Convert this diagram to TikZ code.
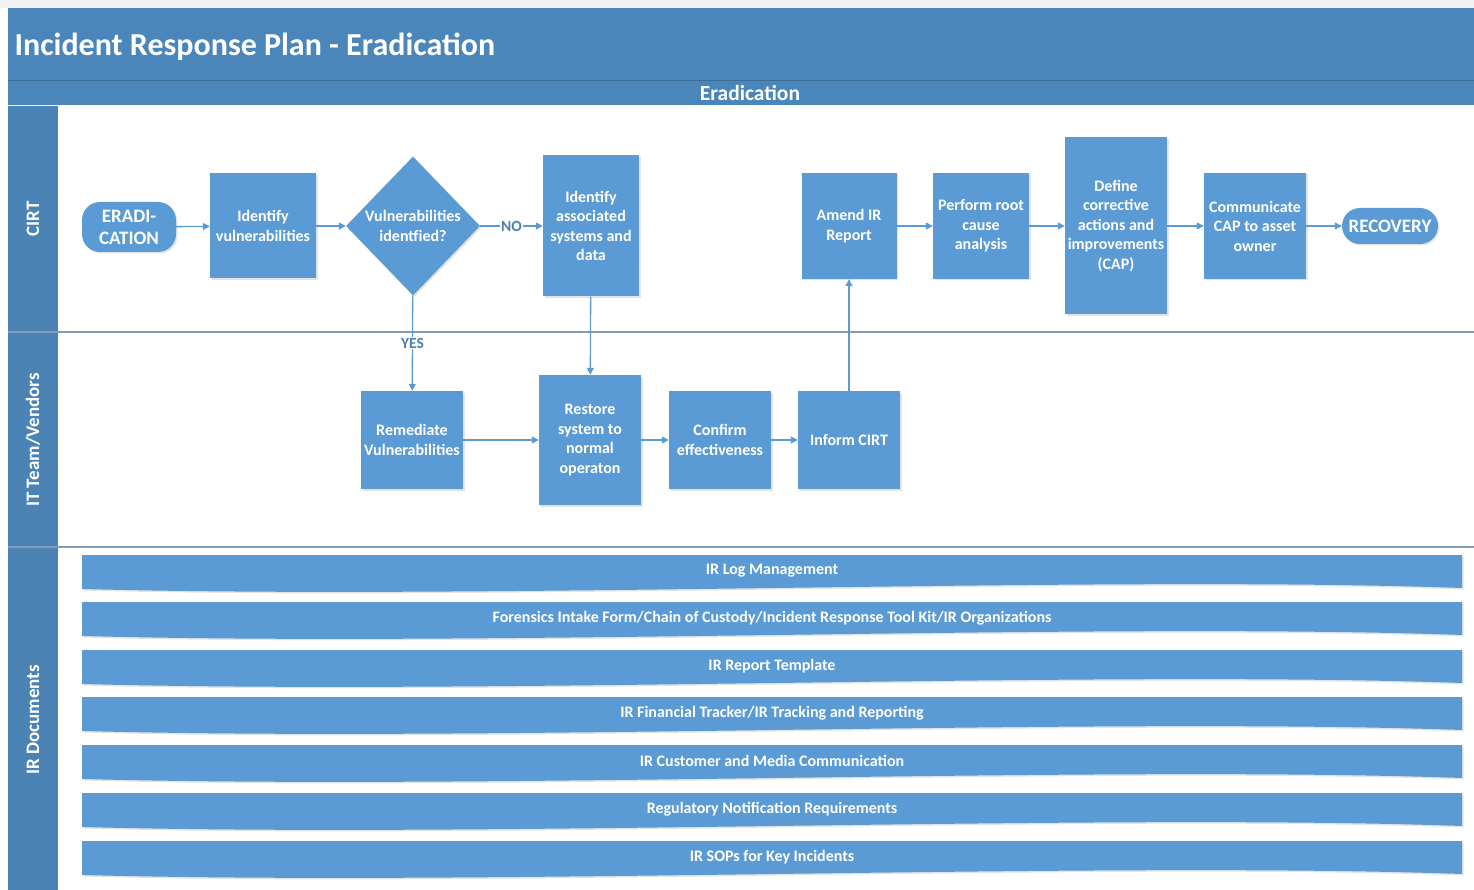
\documentclass[tikz,border=0pt]{standalone}
\usepackage{fontspec}
\setmainfont{Carlito}
\usetikzlibrary{positioning,arrows.meta,shapes.geometric,shadows}

\definecolor{hdrblue}{HTML}{4A86BA}
\definecolor{laneblue}{HTML}{4B83B5}
\definecolor{boxblue}{HTML}{5B9BD5}
\definecolor{rulegray}{HTML}{7F9DBA}
\definecolor{lblblue}{HTML}{4F7FAF}

\newcommand{\taskfont}{\bfseries\fontsize{16}{19.5}\selectfont}
\newcommand{\termfont}{\bfseries\fontsize{19}{22}\selectfont}

\tikzset{
  shd/.style    ={drop shadow={shadow xshift=1.5pt, shadow yshift=-1.5pt,
                  opacity=.22, fill=black!50}},
  task/.style   ={fill=boxblue, text=white, align=center, font=\taskfont,
                  inner sep=1pt, shd},
  term/.style   ={task, rounded corners=18pt, font=\termfont},
  decide/.style ={task, diamond, minimum width=134pt, minimum height=139pt,
                  inner sep=0pt},
  fl/.style     ={-{Triangle[length=7pt,width=7pt]}, draw=boxblue, line width=1.3pt},
  lbl/.style    ={midway, fill=white, inner sep=1pt, text=lblblue,
                  font=\bfseries\fontsize{15.5}{17}\selectfont},
  lane/.style   ={rotate=90, text=white, font=\bfseries\fontsize{19}{22}\selectfont},
  doctext/.style={text=white, font=\bfseries\fontsize{16}{18}\selectfont},
}

% one document band of the IR Documents lane: #1 name, #2 top edge, #3 text
\newcommand{\irdoc}[3]{%
  \fill[boxblue, shd] (82,#2) -- (1462,#2) -- (1462,#2+33)
        .. controls (1100,#2+20) and (500,#2+45) .. (82,#2+34) -- cycle;
  \node[doctext] (#1) at (772,#2+16) {#3};}

\begin{document}
\begin{tikzpicture}[x=1pt, y=-1pt]
  \useasboundingbox (0,0) rectangle (1474,890);
  \fill[black!5] (0,0) rectangle (1474,8);

  % header and swim lanes
  \fill[hdrblue] (8,8) rectangle (1474,105);
  \draw[hdrblue!80!black, line width=1pt] (8,81) -- (1474,81);
  \node[text=white, font=\bfseries\fontsize{32}{36}\selectfont, anchor=west]
        (title) at (11,47) {Incident Response Plan - Eradication};
  \node[text=white, font=\bfseries\fontsize{21.5}{26}\selectfont]
        (phase) at (750,93) {Eradication};
  \fill[laneblue] (8,106) rectangle (58,890);
  \draw[rulegray, line width=2pt] (8,332) -- (1474,332);
  \draw[rulegray, line width=2pt] (8,547) -- (1474,547);
  \node[lane] (cirtlane) at (33,219) {CIRT};
  \node[lane] (itlane)   at (33,440) {IT Team/Vendors};
  \node[lane] (doclane)  at (33,720) {IR Documents};

  % CIRT lane
  \node[term, minimum width=94pt, minimum height=50pt] (erad) at (129,227) {ERADI-\\CATION};
  \node[task, minimum width=106pt, minimum height=105pt] (idvuln) at (263,226)
        {Identify\\vulnerabilities};
  \node[decide] (vfound) at (413,226) {Vulnerabilities\\identfied?};
  \node[task, minimum width=96pt, minimum height=141pt] (idsys) at (591,226)
        {Identify\\associated\\systems and\\data};
  \node[task, minimum width=95pt, minimum height=106pt] (amend) at (849,226)
        {Amend IR\\Report};
  \node[task, minimum width=96pt, minimum height=106pt] (rootcause) at (981,226)
        {Perform root\\cause\\analysis};
  \node[task, minimum width=102pt, minimum height=177pt] (defcap) at (1116,226)
        {Define\\corrective\\actions and\\improvements\\(CAP)};
  \node[task, minimum width=102pt, minimum height=106pt] (commcap) at (1255,226)
        {Communicate\\CAP to asset\\owner};
  \node[term, minimum width=96pt, minimum height=36pt] (recovery) at (1390,226) {RECOVERY};

  % IT Team/Vendors lane
  \node[task, minimum width=102pt, minimum height=98pt] (remed) at (412,440)
        {Remediate\\Vulnerabilities};
  \node[task, minimum width=102pt, minimum height=130pt] (restore) at (590,440)
        {Restore\\system to\\normal\\operaton};
  \node[task, minimum width=102pt, minimum height=98pt] (confirm) at (720,440)
        {Confirm\\effectiveness};
  \node[task, minimum width=102pt, minimum height=98pt] (inform) at (849,440)
        {Inform CIRT};

  % flow
  \draw[fl] (erad) -- (idvuln);
  \draw[fl] (idvuln) -- (vfound);
  \draw[fl] (vfound) -- node[lbl] {NO} (idsys);
  \draw[fl] (vfound) -- node[lbl] {YES} (remed);
  \draw[fl] (idsys) -- (restore);
  \draw[fl] (remed) -- (restore);
  \draw[fl] (restore) -- (confirm);
  \draw[fl] (confirm) -- (inform);
  \draw[fl] (inform) -- (amend);
  \draw[fl] (amend) -- (rootcause);
  \draw[fl] (rootcause) -- (defcap);
  \draw[fl] (defcap) -- (commcap);
  \draw[fl] (commcap) -- (recovery);

  % IR Documents lane
  \irdoc{logmgmt}{555}{IR Log Management}
  \irdoc{intake}{602}{Forensics Intake Form/Chain of Custody/Incident Response Tool Kit/IR Organizations}
  \irdoc{reptpl}{650}{IR Report Template}
  \irdoc{fintrack}{697}{IR Financial Tracker/IR Tracking and Reporting}
  \irdoc{custcomm}{745}{IR Customer and Media Communication}
  \irdoc{regnote}{793}{Regulatory Notification Requirements}
  \irdoc{sops}{841}{IR SOPs for Key Incidents}
\end{tikzpicture}
\end{document}
